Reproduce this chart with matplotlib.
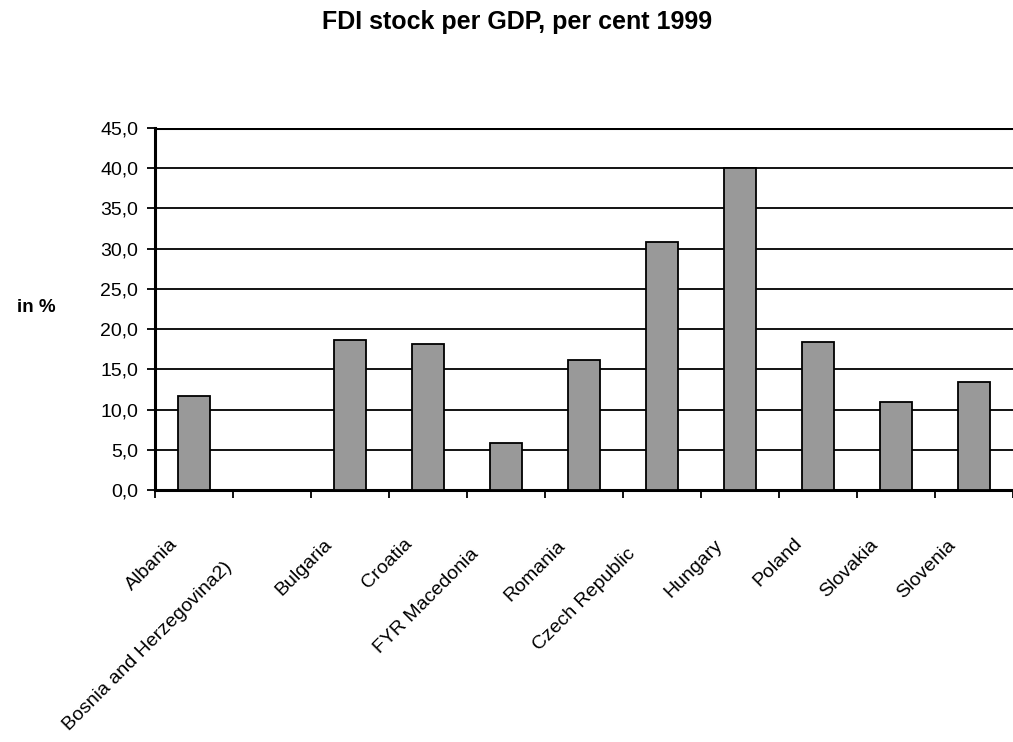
import matplotlib
matplotlib.use("Agg")
import matplotlib.pyplot as plt
from matplotlib.transforms import ScaledTranslation
from matplotlib.ticker import FixedLocator, FuncFormatter
import numpy as np

plt.rcParams['font.family'] = ['Liberation Sans', 'DejaVu Sans']

categories = ["Albania", "Bosnia and Herzegovina2)", "Bulgaria", "Croatia",
              "FYR Macedonia", "Romania", "Czech Republic", "Hungary",
              "Poland", "Slovakia", "Slovenia"]
values = [11.7, np.nan, 18.6, 18.1, 5.9, 16.1, 30.8, 40.0, 18.4, 10.9, 13.4]
yticks = [0, 5, 10, 15, 20, 25, 30, 35, 40, 45]
title = "FDI stock per GDP, per cent 1999"
ylabel = "in %"

fig = plt.figure(figsize=(10.13, 7.42), dpi=100)
ax = fig.add_axes([155/1013, 1 - 490/742, 1 - 155/1013, (490 - 128)/742])

x = np.arange(len(categories))
for y in yticks[1:]:
    ax.axhline(y, color='black', linewidth=1.3 if y < 45 else 2.2, zorder=1)
ax.bar(x, values, width=0.41, color='#999999', edgecolor='black',
       linewidth=1.3, zorder=3)

ax.set_xlim(-0.5, len(categories) - 0.5)
ax.set_ylim(0, 45)
ax.set_yticks(yticks)
ax.yaxis.set_major_formatter(FuncFormatter(lambda v, p: f"{v:.1f}".replace('.', ',')))
ax.tick_params(axis='y', direction='out', length=6, width=1.3, pad=6, labelsize=14)

# major ticks at category boundaries, labels at centres (minor)
ax.xaxis.set_major_locator(FixedLocator(np.arange(len(categories) + 1) - 0.5))
ax.xaxis.set_major_formatter(FuncFormatter(lambda v, p: ""))
ax.xaxis.set_minor_locator(FixedLocator(x))
ax.set_xticklabels(categories, minor=True)
ax.tick_params(axis='x', which='major', direction='out', length=6, width=1.3)
ax.tick_params(axis='x', which='minor', length=0, pad=0, labelsize=14)

labels = ax.get_xticklabels(minor=True)
for lab in labels:
    lab.set_rotation(0)
fig.canvas.draw()
renderer = fig.canvas.get_renderer()
for lab in labels:
    L = lab.get_window_extent(renderer).width
    dx = -(16 + 0.14 * L)
    dy = -(36 + 0.14 * L)
    lab.set_rotation(45)
    lab.set_ha('right')
    lab.set_va('top')
    lab.set_rotation_mode('anchor')
    lab.set_transform(lab.get_transform() +
                      ScaledTranslation(dx / 100, dy / 100, fig.dpi_scale_trans))

for s in ['left', 'bottom']:
    ax.spines[s].set_linewidth(2.2)
ax.spines['right'].set_visible(False)
ax.spines['top'].set_visible(False)

fig.text(517/1013, 1 - 22/742, title, ha='center', va='center',
         fontsize=18, fontweight='bold')
fig.text(36/1013, 1 - 308/742, ylabel, ha='center', va='center',
         fontsize=13.5, fontweight='bold')

fig.savefig("out.png", dpi=100)
